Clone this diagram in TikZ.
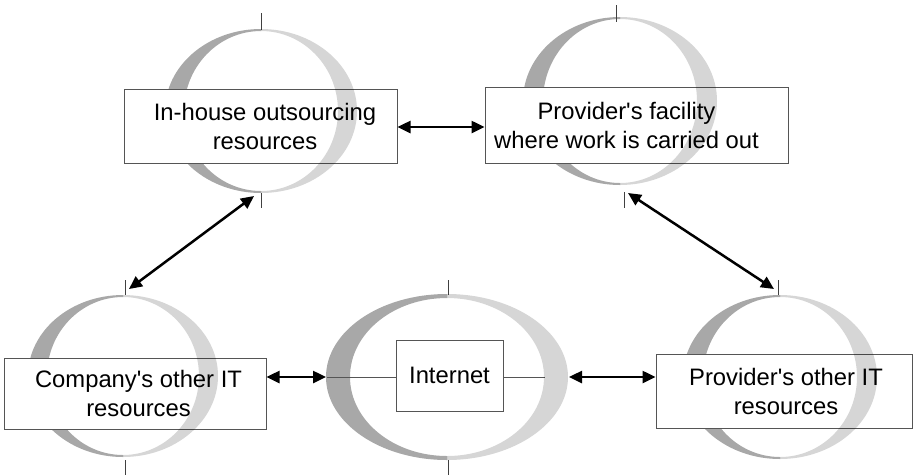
\documentclass[tikz,border=0pt]{standalone}
\usepackage{fontspec}
\setmainfont{Liberation Sans}
\usetikzlibrary{arrows.meta}
\definecolor{ringdark}{RGB}{168,168,168}
\definecolor{ringlight}{RGB}{214,214,214}
\definecolor{boxline}{RGB}{85,85,85}
\definecolor{tickcol}{RGB}{64,64,64}
\newcommand\ringhalf[8]{% color, clip width (signed), cx, cy, rxo, ryo, rxi, ryi
  \begin{scope}
    \clip (#3,#4-100) rectangle ++(#2,200);
    \fill[#1,even odd rule] (#3,#4) ellipse[x radius=#5,y radius=#6] (#3,#4) ellipse[x radius=#7,y radius=#8];
  \end{scope}}
\newcommand\apos{\textquotesingle}
\tikzset{
  box/.style={draw=boxline, line width=1pt, fill=white, inner sep=0pt, align=center,
    font=\fontsize{23.8}{29}\selectfont},
  conn/.style={line width=2.5pt, {Triangle[length=13pt,width=12pt]}-{Triangle[length=13pt,width=12pt]}},
  tick/.style={draw=tickcol, line width=1pt},
  thinline/.style={draw=boxline, line width=1pt}
}
\begin{document}
\begin{tikzpicture}[x=1pt,y=-1pt]
\useasboundingbox (0,0) rectangle (913,475);
% dark halves
\ringhalf{ringdark}{-130}{261}{111}{96}{82}{77}{80}
\ringhalf{ringdark}{-130}{620}{101}{97}{84}{77}{82}
\ringhalf{ringdark}{-130}{123}{376}{95}{81}{76}{79}
\ringhalf{ringdark}{-140}{447}{377}{121}{83}{97}{79}
\ringhalf{ringdark}{-130}{780}{377}{97}{82}{77}{80}
% internet side lines
\coordinate (iL) at (326,377);
\coordinate (iLin) at (327,377);
\coordinate (iRin) at (545,377);
\coordinate (iR) at (569,377);
% ticks
\draw[tick] (261,13) -- (261,30);
\draw[tick] (261,193) -- (261,208);
\draw[tick] (616,5) -- (616,22);
\draw[tick] (624,192) -- (624,208);
\draw[tick] (125,280) -- (125,295);
\draw[tick] (125,460) -- (125,475);
\draw[tick] (448,280) -- (448,295);
\draw[tick] (448,460) -- (448,475);
\draw[tick] (778,280) -- (778,295);
% boxes
\node[box, minimum width=273pt, minimum height=74pt] (b1) at (260.5,126) {\hspace*{9pt}In-house outsourcing\\\hspace*{9pt}resources};
\node[box, minimum width=303pt, minimum height=76pt] (b2) at (636.5,125) {Provider\apos s facility\hspace*{20pt}\\where work is carried out\hspace*{20pt}};
\node[box, minimum width=262pt, minimum height=71pt] (b3) at (135,393.5) {\hspace*{7pt}Company\apos s other IT\\\hspace*{7pt}resources};
\node[box, minimum width=107pt, minimum height=71pt] (b4) at (449.5,375.5) {Internet};
\node[box, minimum width=256pt, minimum height=74pt] (b5) at (784,391) {\hspace*{4pt}Provider\apos s other IT\\\hspace*{4pt}resources};
\draw[thinline] (iLin) -- (iLin -| b4.west);
\draw[thinline] (iRin -| b4.east) -- (iRin);
% light halves
\begin{scope}[blend mode=multiply]
\ringhalf{ringlight}{130}{261}{111}{96}{82}{77}{80}
\ringhalf{ringlight}{130}{620}{101}{97}{84}{77}{82}
\ringhalf{ringlight}{130}{123}{376}{95}{81}{76}{79}
\ringhalf{ringlight}{140}{447}{377}{121}{83}{97}{79}
\ringhalf{ringlight}{130}{780}{377}{97}{82}{77}{80}
\end{scope}
% connectors
\coordinate (a1) at (254,196);
\coordinate (a2) at (129,289);
\coordinate (a3) at (628,193);
\coordinate (a4) at (774,289);
\draw[conn] (b1.east |- 0,127) -- (b2.west |- 0,127);
\draw[conn] (a1) -- (a2);
\draw[conn] (a3) -- (a4);
\draw[conn] (b3.east |- iL) -- (iL);
\draw[conn] (iR) -- (b5.west |- iR);
\end{tikzpicture}
\end{document}
